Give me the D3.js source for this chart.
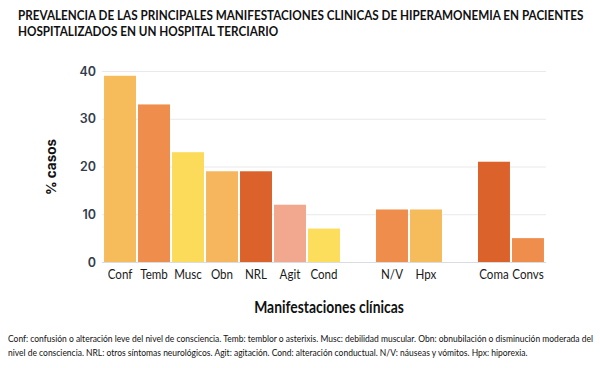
<!DOCTYPE html>
<html>
<head>
<meta charset="utf-8">
<script src="https://cdn.jsdelivr.net/npm/d3@7"></script>
<style>
  body { margin: 0; background: #fff; }
  svg { display: block; }
</style>
</head>
<body>
<svg width="600" height="368"></svg>
<script>
// categories (null = empty slot between groups)
const CATEGORIES = ['Conf', 'Temb', 'Musc', 'Obn', 'NRL', 'Agit', 'Cond', null, 'N/V', 'Hpx', null, 'Coma', 'Convs'];
const VALUES = [39, 33, 23, 19, 19, 12, 7, null, 11, 11, null, 21, 5];
const COLORS = ['#f6bb5b', '#ef8d4c', '#fcdb5a', '#f5b65d', '#dc622b', '#f2a88e', '#fddd5c', null, '#ef8d4c', '#f6bb5b', null, '#dc622b', '#ef8d4c'];
const Y_TICKS = [0, 10, 20, 30, 40];

const TITLE = ['PREVALENCIA DE LAS PRINCIPALES MANIFESTACIONES CLINICAS DE HIPERAMONEMIA EN PACIENTES',
  'HOSPITALIZADOS EN UN HOSPITAL TERCIARIO'];
const NOTE = ['Conf: confusión o alteración leve del nivel de consciencia. Temb: temblor o asterixis. Musc: debilidad muscular. Obn: obnubilación o disminución moderada del',
  'nivel de consciencia. NRL: otros síntomas neurológicos. Agit: agitación. Cond: alteración conductual. N/V: náuseas y vómitos. Hpx: hiporexia.'];

const svg = d3.select('svg');
const CHART = { left: 102, right: 546, top: 71, bottom: 262 };
const STRETCH = 1.18; // narrow-font look: stretch text a bit vertically

const x = d3.scaleBand()
  .domain(d3.range(CATEGORIES.length))
  .range([CHART.left, CHART.right])
  .paddingInner(0.06)
  .paddingOuter(0.06);
const y = d3.scaleLinear().domain([0, 40]).range([CHART.bottom, CHART.top]);

// shrink font until every text in the selection fits, keep one shared size
function fit(sel, width) {
  let size = +sel.attr('font-size');
  const tooWide = () => sel.nodes().some(n => n.getComputedTextLength() > width);
  while (tooWide() && size > 6) {
    size -= 0.1;
    sel.attr('font-size', size);
  }
}

// gridlines
svg.append('g')
  .selectAll('line')
  .data(Y_TICKS)
  .enter()
  .append('line')
  .attr('x1', CHART.left)
  .attr('x2', CHART.right)
  .attr('y1', d => y(d) + 0.5)
  .attr('y2', d => y(d) + 0.5)
  .attr('stroke', d => d === 0 ? '#d9dce1' : '#e8e9ec')
  .attr('stroke-width', 1);

// y axis labels
const yAxis = svg.append('g')
  .attr('transform', `translate(${CHART.left - 6},0)`)
  .call(d3.axisLeft(y).tickValues(Y_TICKS).tickSize(0).tickPadding(0));
yAxis.select('.domain').remove();
yAxis.selectAll('text')
  .attr('font-family', 'Inter, sans-serif')
  .attr('font-weight', 600)
  .attr('font-size', 12.5)
  .attr('fill', '#333d4c');

// bars
svg.append('g')
  .selectAll('rect')
  .data(VALUES.map((v, i) => ({ i, v })).filter(d => d.v !== null))
  .enter()
  .append('rect')
  .attr('x', d => x(d.i))
  .attr('width', x.bandwidth())
  .attr('y', d => y(d.v))
  .attr('height', d => y(0) - y(d.v))
  .attr('fill', d => COLORS[d.i]);

// x axis labels
const xAxis = svg.append('g')
  .attr('transform', `translate(0,${CHART.bottom})`)
  .call(d3.axisBottom(x).tickSize(0).tickFormat(i => CATEGORIES[i] || ''));
xAxis.select('.domain').remove();
xAxis.selectAll('text')
  .attr('font-family', 'Lato, sans-serif')
  .attr('font-size', 13)
  .attr('fill', '#1a1a1a')
  .attr('dy', 0)
  .attr('y', 17 / STRETCH)
  .attr('transform', `scale(1,${STRETCH})`)
  .call(fit, 31.5);

// y title
svg.append('text')
  .attr('transform', 'translate(56,167) rotate(-90)')
  .attr('text-anchor', 'middle')
  .attr('font-family', 'Inter, sans-serif')
  .attr('font-weight', 700)
  .attr('font-size', 13.5)
  .attr('fill', '#111')
  .text('% casos');

// x title
svg.append('text')
  .attr('transform', `translate(329,313) scale(1,${STRETCH})`)
  .attr('text-anchor', 'middle')
  .attr('font-family', 'Lato, sans-serif')
  .attr('font-weight', 700)
  .attr('font-size', 15)
  .attr('fill', '#111')
  .text('Manifestaciones clínicas')
  .call(fit, 150);

// title
svg.append('g')
  .selectAll('text')
  .data(TITLE)
  .enter()
  .append('text')
  .attr('transform', (d, i) => `translate(18,${20 + i * 15.5}) scale(1,${STRETCH})`)
  .attr('font-family', 'Lato, sans-serif')
  .attr('font-weight', 700)
  .attr('font-size', 13)
  .attr('fill', '#111')
  .text(d => d)
  .call(fit, 567);

// footnote
svg.append('g')
  .selectAll('text')
  .data(NOTE)
  .enter()
  .append('text')
  .attr('transform', (d, i) => `translate(8,${342 + i * 14}) scale(1,${STRETCH})`)
  .attr('font-family', 'Lato, sans-serif')
  .attr('font-size', 9.5)
  .attr('fill', '#111')
  .text(d => d)
  .call(fit, 586);
</script>
</body>
</html>
